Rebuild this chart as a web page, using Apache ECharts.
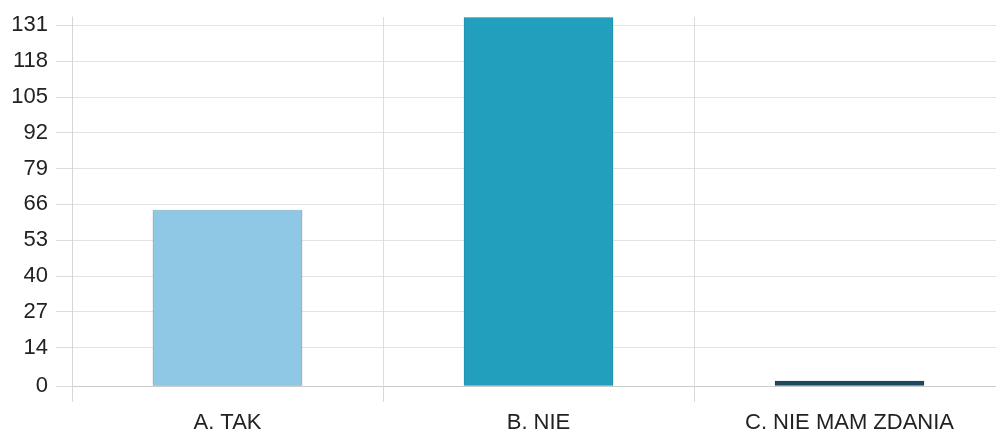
<!DOCTYPE html>
<html>
<head>
<meta charset="utf-8">
<script src="https://cdn.jsdelivr.net/npm/echarts@6/dist/echarts.min.js"></script>
<style>html,body{margin:0;padding:0;background:#fff;}#c{width:996px;height:436px;}</style>
</head>
<body>
<div id="c"></div>
<script>
const categories = ['A. TAK', 'B. NIE', 'C. NIE MAM ZDANIA'];
const values = [64, 134, 2];
const barColors = ['#8fc8e5', '#229fbd', '#1b4a62'];
const yTicks = [0, 14, 27, 40, 53, 66, 79, 92, 105, 118, 131];

const chart = echarts.init(document.getElementById('c'), null, {renderer: 'canvas'});
chart.setOption({
  animation: false,
  grid: {left: 72, width: 933, top: 17, bottom: 50, containLabel: false, outerBoundsMode: 'none'},
  xAxis: {
    type: 'category',
    data: categories,
    axisLine: {show: true, lineStyle: {color: '#cccccc', width: 1}},
    axisTick: {show: true, length: 16, alignWithLabel: false, lineStyle: {color: '#d8d8d8'}},
    splitLine: {show: true, lineStyle: {color: '#dddddd'}},
    axisLabel: {color: '#222222', fontFamily: 'Liberation Sans', fontSize: 22, margin: 26, interval: 0}
  },
  yAxis: {
    type: 'value',
    min: 0,
    max: 134,
    axisLine: {show: true, lineStyle: {color: '#d6d6d6', width: 1}},
    axisTick: {show: true, length: 16, customValues: yTicks, lineStyle: {color: '#dcdcdc'}},
    splitLine: {show: true, lineStyle: {color: '#e3e3e3'}},
    axisLabel: {customValues: yTicks, color: '#222222', fontFamily: 'Liberation Sans', fontSize: 22, margin: 24}
  },
  series: [{
    type: 'bar',
    barWidth: 150,
    data: values.map((v, i) => ({value: v, itemStyle: {color: barColors[i], borderColor: 'rgba(0,0,0,0.12)', borderWidth: 1}}))
  }]
});
</script>
</body>
</html>
